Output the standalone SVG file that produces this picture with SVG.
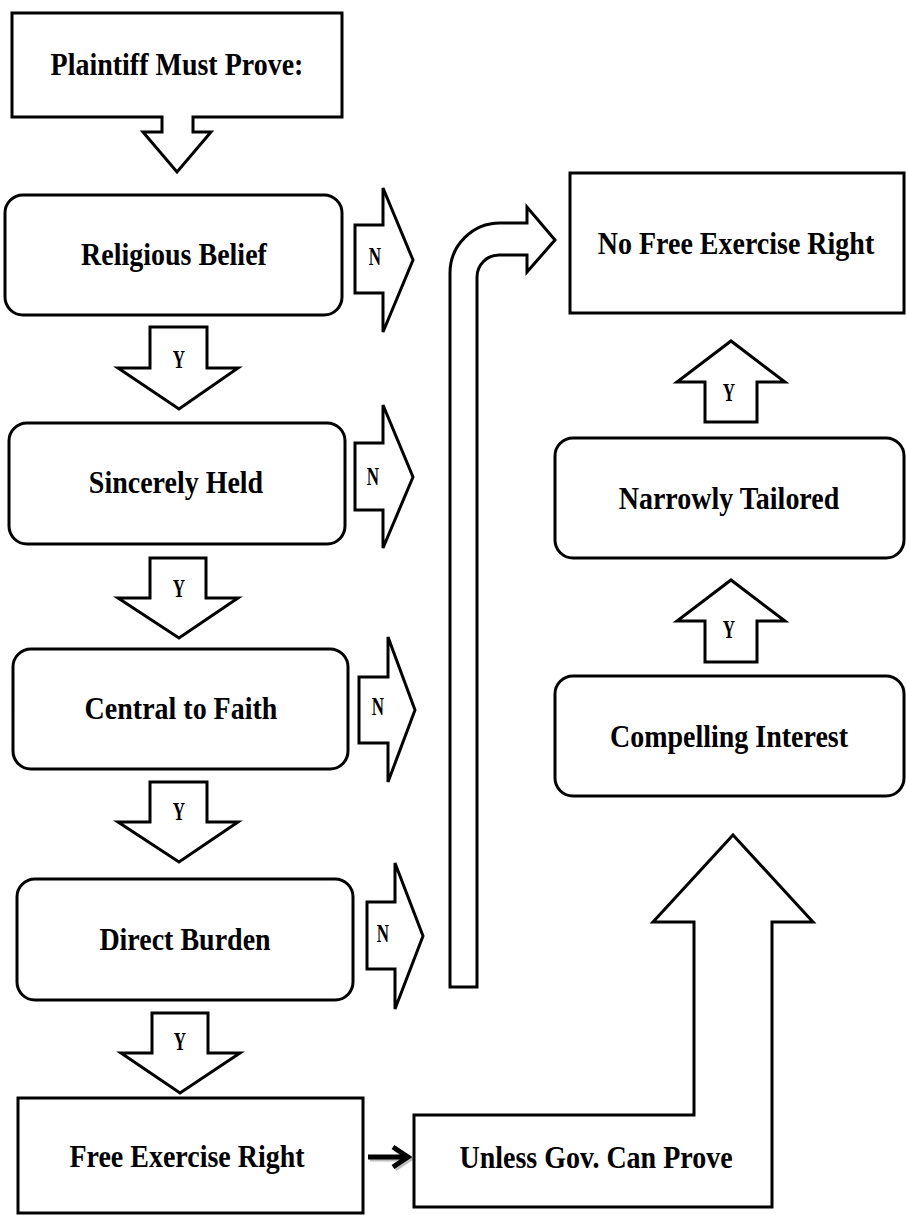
<svg xmlns="http://www.w3.org/2000/svg" width="906" height="1215" viewBox="0 0 906 1215">
<style>
.s{fill:#fff;stroke:#000;stroke-width:3;stroke-linejoin:miter}
.t{font-family:"Liberation Serif","Times New Roman",serif;font-weight:bold;font-size:28px;text-anchor:middle;fill:#000}
.l{font-family:"Liberation Serif","Times New Roman",serif;font-weight:bold;font-size:17px;text-anchor:middle;fill:#000}
</style>
<rect width="906" height="1215" fill="#fff"/>
<g id="connectors">
<g id="y1"><path class="s" d="M150,327 H207 V368 H238 L179,409 L118,368 H150 Z"/><text class="l" transform="translate(179,368) scale(1,1.5)">Y</text></g>
<g id="y2"><path class="s" d="M150,558 H206 V598 H238 L179,638 L118,598 H150 Z"/><text class="l" transform="translate(179,597) scale(1,1.5)">Y</text></g>
<g id="y3"><path class="s" d="M150,782 H207 V822 H238 L179,862 L118,822 H150 Z"/><text class="l" transform="translate(179,820) scale(1,1.5)">Y</text></g>
<g id="y4"><path class="s" d="M152,1013 H208 V1053 H240 L180,1093 L121,1053 H152 Z"/><text class="l" transform="translate(180,1050) scale(1,1.5)">Y</text></g>
<g id="n1"><path class="s" d="M355,225 H383 V188 L413,260 L383,332 V293 H355 Z"/><text class="l" transform="translate(375,265) scale(1,1.5)">N</text></g>
<g id="n2"><path class="s" d="M355,443 H383 V405 L413,477 L383,548 V510 H355 Z"/><text class="l" transform="translate(373,485) scale(1,1.5)">N</text></g>
<g id="n3"><path class="s" d="M359,677 H388 V637 L415,710 L388,782 V743 H359 Z"/><text class="l" transform="translate(378,715) scale(1,1.5)">N</text></g>
<g id="n4"><path class="s" d="M367,902 H395 V863 L423,936 L395,1009 V969 H367 Z"/><text class="l" transform="translate(383,942) scale(1,1.5)">N</text></g>
<g id="bent"><path class="s" d="M450,987 V273 A50,50 0 0 1 500,223 H527 V207 L555,240 L527,272 V255 H499 A22,22 0 0 0 477,277 V987 Z"/></g>
<g id="yu1"><path class="s" d="M705,422 V382 H677 L731,341 L785,382 H757 V422 Z"/><text class="l" transform="translate(729,401) scale(1,1.5)">Y</text></g>
<g id="yu2"><path class="s" d="M705,662 V621 H677 L731,580 L785,621 H757 V662 Z"/><text class="l" transform="translate(729,638) scale(1,1.5)">Y</text></g>
<g id="small">
<path d="M370,1159 H406 M395,1149 L410,1159 L395,1169" fill="none" stroke="#000" stroke-opacity="0.25" stroke-width="5"/>
<path d="M368,1157 H404 M393,1147 L408,1157 L393,1167" fill="none" stroke="#000" stroke-width="5"/>
</g>
</g>
<g id="plaintiff"><path class="s" d="M12,13 H342 V117 H193 V132 H211 L177,172 L143,132 H162 V117 H12 Z"/><text class="t" transform="translate(177,75) scale(1,1.15)">Plaintiff Must Prove:</text></g>
<g id="religious"><rect class="s" x="5" y="195" width="337" height="120" rx="18"/><text class="t" transform="translate(174,265) scale(1,1.15)">Religious Belief</text></g>
<g id="sincere"><rect class="s" x="9" y="423" width="336" height="121" rx="18"/><text class="t" transform="translate(176,493) scale(1,1.15)">Sincerely Held</text></g>
<g id="central"><rect class="s" x="13" y="649" width="335" height="120" rx="18"/><text class="t" transform="translate(181,719) scale(1,1.15)">Central to Faith</text></g>
<g id="direct"><rect class="s" x="17" y="879" width="336" height="121" rx="18"/><text class="t" transform="translate(185,950) scale(1,1.15)">Direct Burden</text></g>
<g id="free"><rect class="s" x="18" y="1098" width="345" height="115"/><text class="t" transform="translate(187,1167) scale(1,1.15)">Free Exercise Right</text></g>
<g id="unless"><path class="s" d="M414,1115 H694 V922 H653 L733,835 L813,922 H772 V1207 H414 Z"/><text class="t" transform="translate(596,1168) scale(1,1.15)">Unless Gov. Can Prove</text></g>
<g id="compelling"><rect class="s" x="555" y="676" width="349" height="120" rx="18"/><text class="t" transform="translate(729,747) scale(1,1.15)">Compelling Interest</text></g>
<g id="narrow"><rect class="s" x="555" y="438" width="349" height="120" rx="18"/><text class="t" transform="translate(729,509) scale(1,1.15)">Narrowly Tailored</text></g>
<g id="nofree"><rect class="s" x="570" y="173" width="334" height="140"/><text class="t" transform="translate(736,254) scale(1,1.15)">No Free Exercise Right</text></g>
</svg>
